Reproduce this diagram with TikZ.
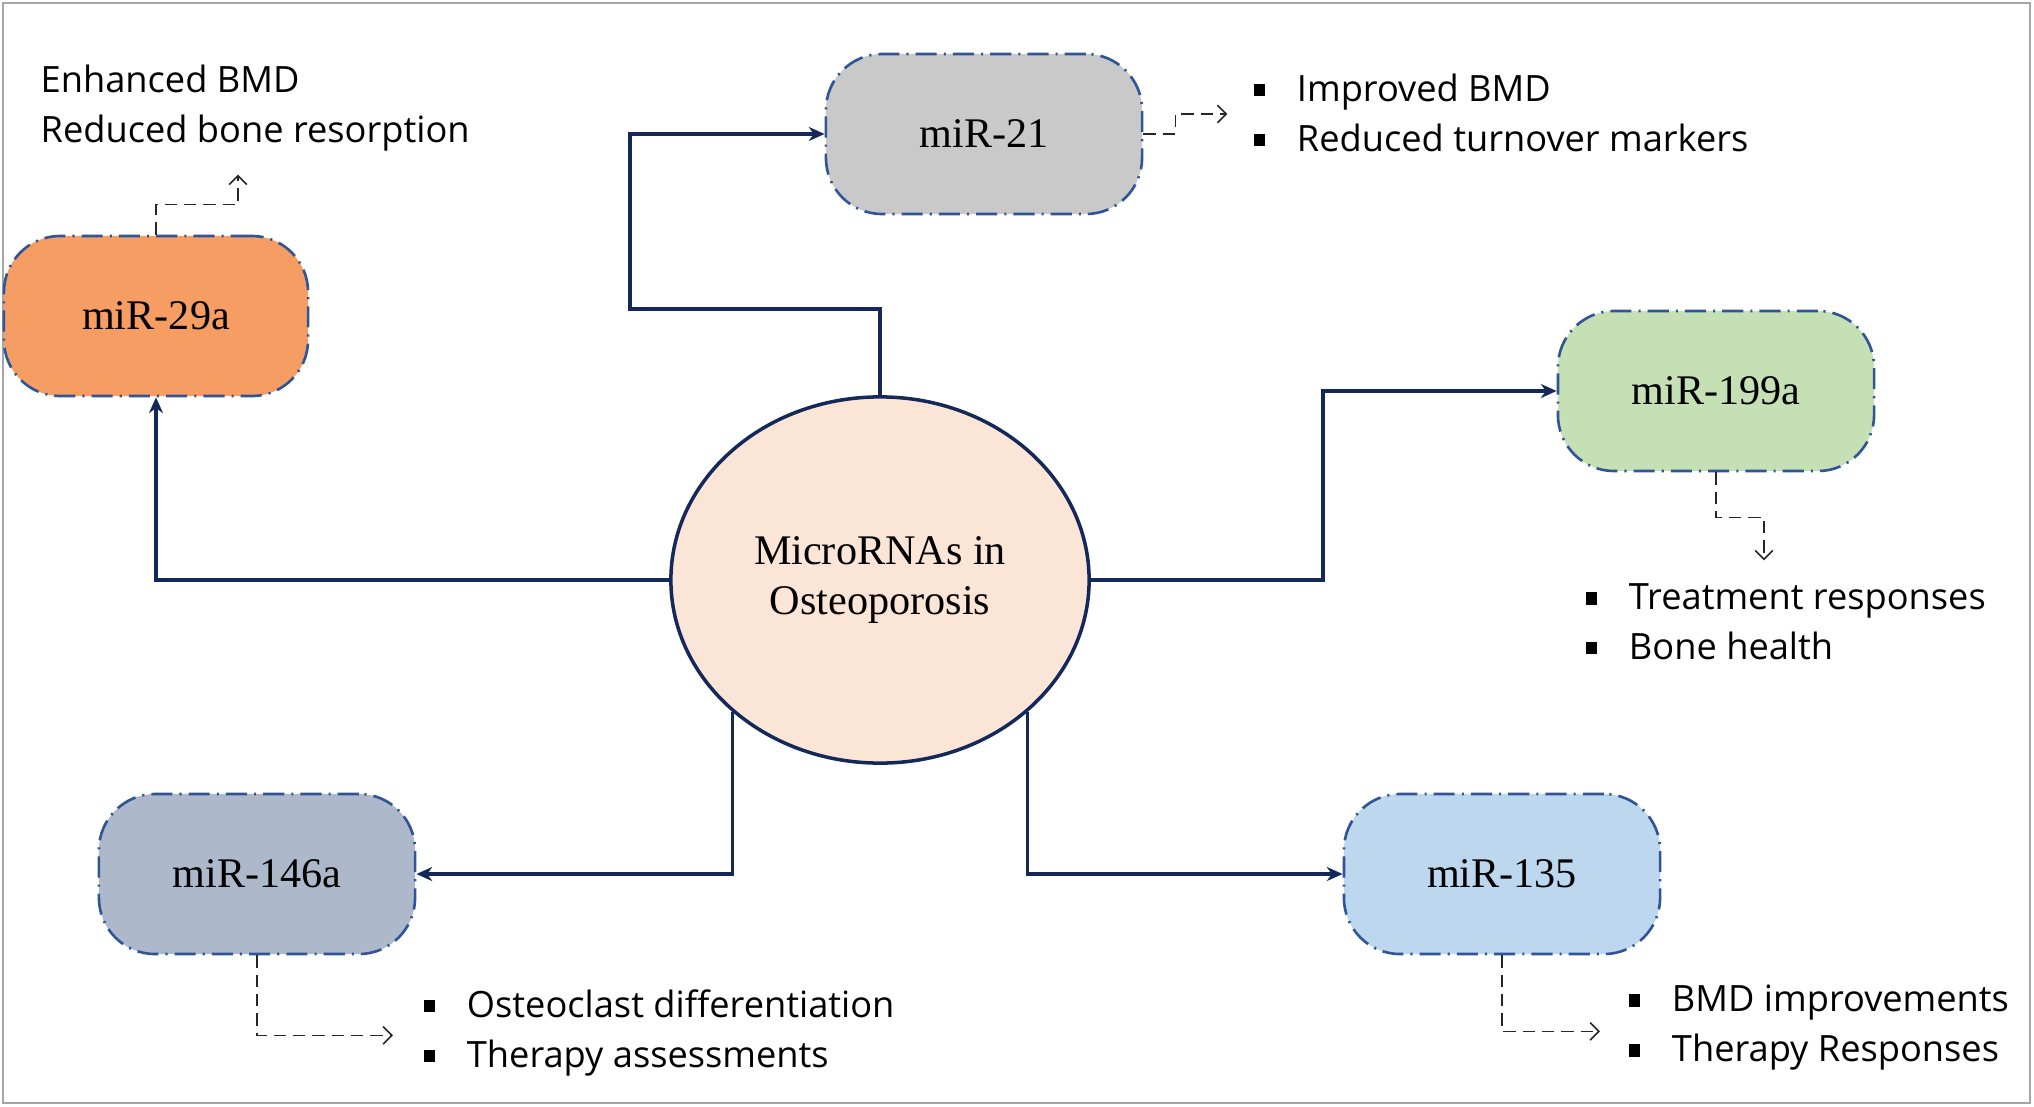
\documentclass[tikz,border=0pt]{standalone}
\usepackage{fontspec}
\setmainfont{Liberation Serif}
\newfontfamily\notefont{Open Sans}
\usepackage{tikz}
\usetikzlibrary{arrows.meta,%
                shapes.geometric}

\definecolor{navy}{RGB}{20,40,90}
\definecolor{rim}{RGB}{47,85,151}
\definecolor{core}{RGB}{251,229,214}
\definecolor{c29}{RGB}{246,157,99}
\definecolor{c21}{RGB}{201,201,201}
\definecolor{c199}{RGB}{197,224,180}
\definecolor{c146}{RGB}{173,185,202}
\definecolor{c135}{RGB}{189,215,238}

\newcommand{\bsq}{\rule[1.5pt]{3.3pt}{3.6pt}\hspace{9pt}}

\begin{document}
\begin{tikzpicture}[x=0.01cm, y=-0.01cm,
    main node/.style={ellipse, draw=navy, line width=1pt, fill=core,
                      minimum width=4.18cm, minimum height=3.66cm, inner sep=0pt,
                      align=center, font=\fontsize{12}{14}\selectfont},
    mir node/.style={draw=rim, line width=0.75pt,
                     dash pattern=on 6pt off 2pt on 0.6pt off 2pt,
                     rounded corners=16pt, minimum width=3.16cm, minimum height=1.6cm,
                     inner sep=0pt, font=\fontsize{12}{14}\selectfont},
    note text/.style={anchor=west, align=left, inner sep=0pt,
                      font=\notefont\fontsize{10.3}{14.2}\selectfont},
    link/.style={draw=navy, line width=0.9pt, -{Stealth[length=4.5pt,width=4pt]}},
    hint/.style={draw=black!85, line width=0.45pt, dash pattern=on 3.5pt off 2pt,
                 -{Straight Barb[length=2.5pt,width=5pt]}}]

  \useasboundingbox (0,0) rectangle (2034,1106);
  \draw[black!35, line width=0.6pt] (3,3) rectangle (2030,1103);

  \node[main node] (0) at (880,580) {MicroRNAs in\\Osteoporosis};
  \node[mir node, fill=c29, minimum width=3.04cm] (1) at (156,316) {miR-29a};
  \node[mir node, fill=c21]  (2) at (984,134)  {miR-21};
  \node[mir node, fill=c199] (3) at (1716,391) {miR-199a};
  \node[mir node, fill=c146] (4) at (257,874)  {miR-146a};
  \node[mir node, fill=c135] (5) at (1502,874) {miR-135};

  \node[note text] (6)  at (40,108)   {Enhanced BMD\\Reduced bone resorption};
  \node[note text] (7)  at (1253,113) {\bsq Improved BMD\\\bsq Reduced turnover markers};
  \node[note text] (8)  at (1585,622) {\bsq Treatment responses\\\bsq Bone health};
  \node[note text] (9)  at (423,1033) {\bsq Osteoclast differentiation\\\bsq Therapy assessments};
  \node[note text] (10) at (1628,1028) {\bsq BMD improvements\\\bsq Therapy Responses};

  % from the centre out to each miRNA
  \draw[link] (0.west) -| (1.south);
  \draw[link] (0.north) |- (630,309) |- (2.west);
  \draw[link] (0.east) -- (1323,580) |- (3.west);
  \draw[link] (0.-138) |- (4.east);
  \draw[link] (0.-42) |- (5.west);

  % dashed pointers to the notes
  \draw[hint] (1.north) |- ++(82,-30) -- ++(0,-30);
  \draw[hint] (2.east) -- ++(32,0) |- ++(52,-20);
  \draw[hint] (3.south) |- ++(48,45) -- ++(0,43);
  \draw[hint] (4.south) |- ++(136,80);
  \draw[hint] (5.south) |- ++(98,76);
\end{tikzpicture}
\end{document}
